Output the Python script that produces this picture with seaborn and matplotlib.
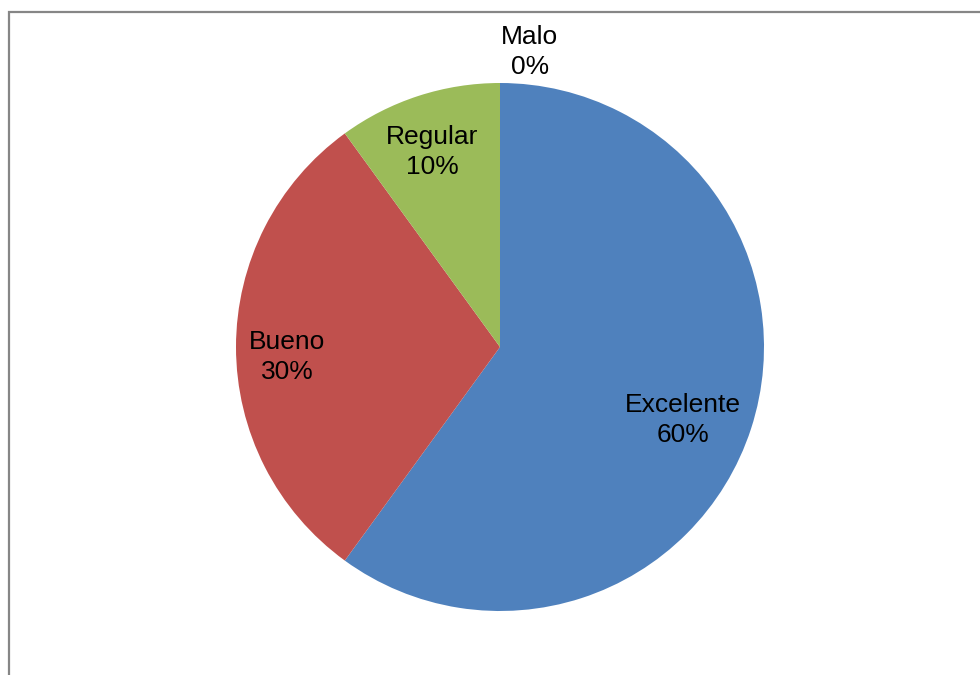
import numpy as np
import matplotlib
matplotlib.use("Agg")
import matplotlib.pyplot as plt
from matplotlib.patches import Rectangle
import seaborn as sns

# Survey results
categories = ["Excelente", "Bueno", "Regular", "Malo"]
values = [60, 30, 10, 0]
colors = ["#4F81BD", "#C0504D", "#9BBB59", "#8064A2"]

sns.set_theme(style="white")
plt.rcParams["font.family"] = ["Liberation Sans", "DejaVu Sans"]

W, H, DPI = 980, 675, 100
fig = plt.figure(figsize=(W / DPI, H / DPI), dpi=DPI)
fig.patch.set_facecolor("white")

# pie centre and radius in pixels
cx, cy, R = 500, 347, 264
ax = fig.add_axes([0, 0, 1, 1])

palette = sns.color_palette(colors)
wedges, _ = ax.pie(values, colors=palette, startangle=90, counterclock=False,
                   radius=1, center=(0, 0),
                   wedgeprops=dict(linewidth=0, edgecolor="none"))

# pie() resets the limits, so place the circle afterwards
ax.set_xlim(-cx / R, (W - cx) / R)
ax.set_ylim(-(H - cy) / R, cy / R)
ax.set_aspect("equal")
ax.axis("off")

# label placement: distance from centre and small angular nudge
label_dist = [0.746, 0.808, 0.782, 1.117]
angle_nudge = [-3.75, 2.7, 1.2, 0.0]
for w, name, v, d, da in zip(wedges, categories, values, label_dist, angle_nudge):
    mid = np.deg2rad((w.theta1 + w.theta2) / 2 + da)
    x, y = d * np.cos(mid), d * np.sin(mid)
    if v == 0:
        ax.text(x + 0.005, y, f"{name}\n{v}%", ha="left", va="center",
                multialignment="center", fontsize=19, color="black",
                linespacing=1.35)
    else:
        ax.text(x, y, f"{name}\n{v}%", ha="center", va="center",
                fontsize=19, color="black", linespacing=1.35)

# chart frame
fig.patches.append(Rectangle((8.5 / W, -0.1), 1.2, (H - 11.5) / H + 0.1,
                             transform=fig.transFigure, fill=False,
                             edgecolor="#868686", linewidth=1.6))

fig.savefig("out.png", dpi=DPI, facecolor="white")
